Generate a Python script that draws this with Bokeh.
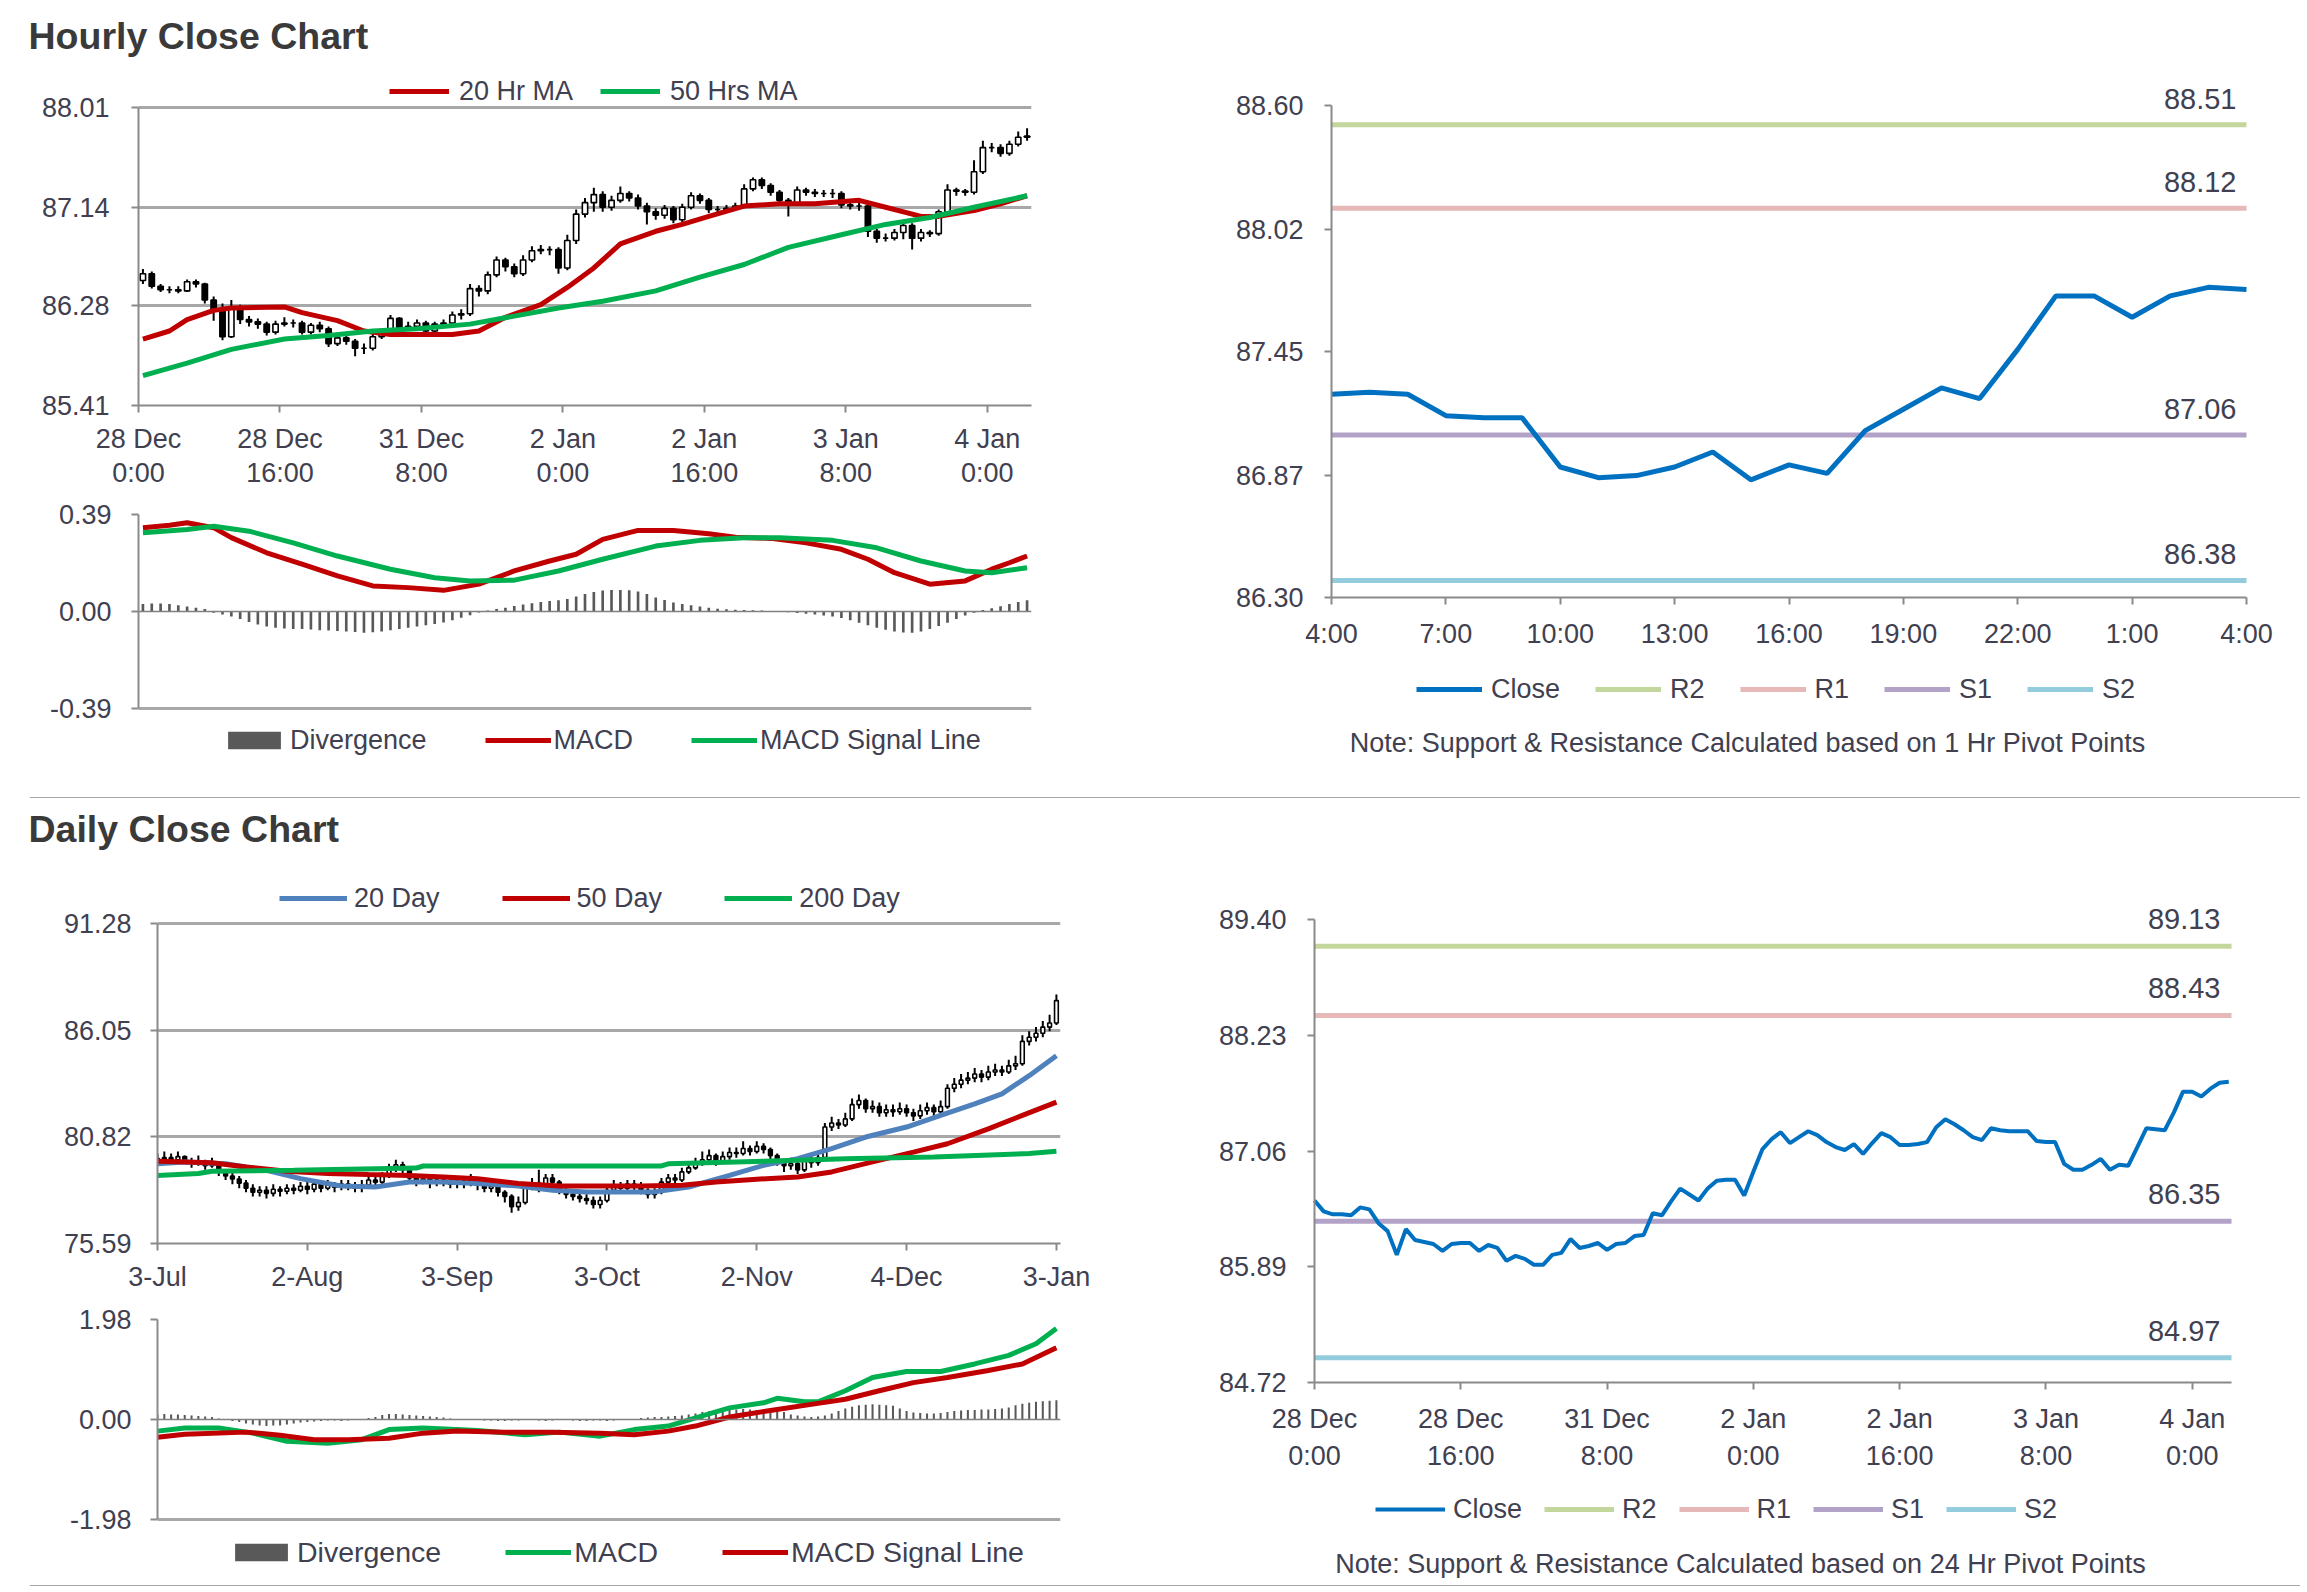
from bokeh.plotting import figure
from bokeh.models import (ColumnDataSource, FixedTicker, NumeralTickFormatter, Legend,
                          LegendItem, Label, Span, Range1d)
from bokeh.layouts import column, row
from bokeh.embed import file_html
from bokeh.resources import INLINE

# ----------------------------------------------------------------- data
hourly_tick_labels = ["28 Dec\n0:00", "28 Dec\n16:00", "31 Dec\n8:00", "2 Jan\n0:00",
                      "2 Jan\n16:00", "3 Jan\n8:00", "4 Jan\n0:00"]
hourly_tick_step = 16
hourly_price_ticks = [85.41, 86.28, 87.14, 88.01]

hourly_open = [86.50, 86.56, 86.45, 86.42, 86.42, 86.41, 86.49, 86.47, 86.33, 86.25,
               86.01, 86.27, 86.16, 86.14, 86.12, 86.05, 86.12, 86.13, 86.13, 86.05,
               86.11, 86.08, 85.95, 86.00, 85.97, 85.91, 85.91, 86.01, 86.03, 86.17,
               86.08, 86.10, 86.13, 86.06, 86.12, 86.13, 86.20, 86.21, 86.43, 86.41,
               86.55, 86.68, 86.62, 86.56, 86.68, 86.76, 86.77, 86.77, 86.61, 86.85,
               87.08, 87.18, 87.25, 87.14, 87.20, 87.26, 87.22, 87.15, 87.10, 87.07,
               87.13, 87.03, 87.14, 87.24, 87.20, 87.12, 87.12, 87.13, 87.15, 87.30,
               87.38, 87.33, 87.27, 87.20, 87.17, 87.29, 87.27, 87.26, 87.26, 87.26,
               87.16, 87.15, 87.15, 86.93, 86.87, 86.87, 86.92, 86.98, 86.87, 86.92,
               86.91, 87.10, 87.29, 87.28, 87.27, 87.45, 87.66, 87.66, 87.61, 87.69,
               87.75]
hourly_high = [86.60, 86.58, 86.47, 86.45, 86.45, 86.51, 86.51, 86.48, 86.36, 86.30,
               86.33, 86.29, 86.19, 86.17, 86.14, 86.15, 86.18, 86.16, 86.15, 86.13,
               86.14, 86.10, 86.02, 86.03, 85.99, 85.95, 86.04, 86.07, 86.20, 86.18,
               86.14, 86.16, 86.15, 86.14, 86.16, 86.23, 86.25, 86.47, 86.46, 86.58,
               86.71, 86.70, 86.65, 86.72, 86.80, 86.81, 86.80, 86.79, 86.90, 87.12,
               87.22, 87.31, 87.28, 87.24, 87.32, 87.28, 87.25, 87.18, 87.13, 87.16,
               87.15, 87.17, 87.27, 87.26, 87.22, 87.15, 87.16, 87.18, 87.34, 87.40,
               87.40, 87.35, 87.29, 87.22, 87.32, 87.31, 87.30, 87.29, 87.30, 87.28,
               87.19, 87.18, 87.17, 86.95, 86.91, 86.95, 87.02, 87.00, 86.95, 86.94,
               87.12, 87.34, 87.31, 87.30, 87.55, 87.72, 87.70, 87.69, 87.72, 87.80,
               87.83]
hourly_low = [86.47, 86.43, 86.40, 86.39, 86.39, 86.40, 86.44, 86.30, 86.15, 85.98,
              86.00, 86.12, 86.10, 86.08, 86.02, 86.03, 86.10, 86.09, 86.03, 86.03,
              86.05, 85.92, 85.93, 85.94, 85.84, 85.86, 85.89, 85.99, 86.02, 86.05,
              86.06, 86.08, 86.03, 86.03, 86.09, 86.11, 86.16, 86.19, 86.36, 86.38,
              86.53, 86.58, 86.53, 86.54, 86.66, 86.73, 86.72, 86.56, 86.59, 86.82,
              87.05, 87.10, 87.10, 87.11, 87.18, 87.19, 87.12, 86.99, 87.03, 87.04,
              87.00, 87.01, 87.12, 87.17, 87.09, 87.09, 87.10, 87.11, 87.13, 87.28,
              87.30, 87.24, 87.17, 87.06, 87.15, 87.24, 87.23, 87.23, 87.22, 87.13,
              87.12, 87.11, 86.88, 86.83, 86.84, 86.85, 86.86, 86.77, 86.84, 86.88,
              86.89, 87.08, 87.24, 87.24, 87.25, 87.43, 87.62, 87.58, 87.59, 87.67,
              87.72]
hourly_close = [86.56, 86.45, 86.42, 86.42, 86.41, 86.49, 86.47, 86.33, 86.25, 86.01,
                86.27, 86.16, 86.14, 86.12, 86.05, 86.12, 86.13, 86.13, 86.05, 86.11,
                86.08, 85.95, 86.00, 85.97, 85.91, 85.91, 86.01, 86.03, 86.17, 86.08,
                86.10, 86.13, 86.06, 86.12, 86.13, 86.20, 86.21, 86.43, 86.41, 86.55,
                86.68, 86.62, 86.56, 86.68, 86.76, 86.77, 86.77, 86.61, 86.85, 87.08,
                87.18, 87.25, 87.14, 87.20, 87.26, 87.22, 87.15, 87.10, 87.07, 87.13,
                87.03, 87.14, 87.24, 87.20, 87.12, 87.12, 87.13, 87.15, 87.30, 87.38,
                87.33, 87.27, 87.20, 87.17, 87.29, 87.27, 87.26, 87.26, 87.26, 87.16,
                87.15, 87.15, 86.93, 86.87, 86.87, 86.92, 86.98, 86.87, 86.92, 86.91,
                87.10, 87.29, 87.28, 87.27, 87.45, 87.66, 87.66, 87.61, 87.69, 87.75,
                87.76]

ma20h_idx = [0, 3, 5, 8, 10, 16, 18, 22, 25, 28, 31, 35, 38, 41, 45, 48, 51, 54, 58, 61,
             64, 68, 72, 76, 81, 84, 88, 90, 94, 97, 100]
ma20h_val = [85.99, 86.06, 86.16, 86.24, 86.26, 86.27, 86.22, 86.15, 86.06, 86.03,
             86.03, 86.03, 86.06, 86.18, 86.29, 86.44, 86.61, 86.82, 86.93, 86.99,
             87.06, 87.15, 87.17, 87.17, 87.20, 87.14, 87.06, 87.06, 87.11, 87.17, 87.24]
ma50h_idx = [0, 5, 10, 16, 21, 26, 31, 37, 42, 47, 52, 58, 63, 68, 73, 79, 84, 89, 94, 100]
ma50h_val = [85.67, 85.78, 85.90, 85.99, 86.02, 86.06, 86.08, 86.12, 86.19, 86.26,
             86.32, 86.41, 86.53, 86.64, 86.79, 86.90, 86.99, 87.05, 87.14, 87.24]

macd_h_ticks = [-0.39, 0.00, 0.39]
macd_h_idx = [0, 3, 5, 8, 10, 14, 18, 22, 26, 30, 34, 38, 42, 46, 49, 52, 56, 60, 64, 67,
              71, 75, 79, 82, 85, 89, 93, 96, 98, 100]
macd_h_val = [0.337, 0.347, 0.357, 0.337, 0.297, 0.236, 0.190, 0.143, 0.103, 0.096,
              0.085, 0.110, 0.163, 0.203, 0.230, 0.290, 0.326, 0.326, 0.313, 0.299,
              0.294, 0.276, 0.250, 0.210, 0.156, 0.110, 0.123, 0.170, 0.196, 0.223]
sig_h_idx = [0, 5, 8, 12, 17, 22, 28, 33, 37, 42, 47, 52, 58, 63, 68, 72, 78, 83, 88, 93, 96, 100]
sig_h_val = [0.317, 0.330, 0.343, 0.323, 0.276, 0.223, 0.170, 0.136, 0.123, 0.126, 0.163,
             0.210, 0.263, 0.286, 0.297, 0.297, 0.286, 0.256, 0.203, 0.163, 0.156, 0.176]
div_h = [0.030, 0.032, 0.032, 0.030, 0.025, 0.020, 0.015, 0.010,
         -0.005, -0.012, -0.020, -0.030, -0.042, -0.052, -0.060,
         -0.065, -0.068, -0.070, -0.070, -0.072, -0.075, -0.076, -0.078, -0.080, -0.082, -0.085,
         -0.083, -0.080, -0.075, -0.070, -0.065, -0.060, -0.055, -0.050, -0.044, -0.035, -0.025, -0.015,
         -0.004, 0.004, 0.010,
         0.015, 0.022, 0.028, 0.033, 0.038, 0.042, 0.045, 0.050,
         0.060, 0.070, 0.078, 0.084, 0.086, 0.086, 0.085, 0.080, 0.070,
         0.056, 0.046, 0.036, 0.030, 0.025, 0.020, 0.015,
         0.011, 0.009, 0.007, 0.006, 0.005, 0.004, 0.002, 0.000,
         -0.003, -0.006, -0.009, -0.012, -0.016, -0.020, -0.026,
         -0.035, -0.045, -0.055, -0.065, -0.073, -0.080, -0.084, -0.085, -0.080, -0.070, -0.058,
         -0.045, -0.030, -0.016, -0.005,
         0.006, 0.013, 0.021, 0.030, 0.038, 0.045]

pivot1_tick_labels = ["4:00", "7:00", "10:00", "13:00", "16:00", "19:00", "22:00", "1:00", "4:00"]
pivot1_tick_step = 3
pivot1_ticks = [86.30, 86.87, 87.45, 88.02, 88.60]
pivot1_close = [87.25, 87.26, 87.25, 87.15, 87.14, 87.14, 86.91, 86.86, 86.87, 86.91,
                86.98, 86.85, 86.92, 86.88, 87.08, 87.18, 87.28, 87.23, 87.46, 87.71,
                87.71, 87.61, 87.71, 87.75, 87.74]
pivot1_names = ["R2", "R1", "S1", "S2"]
pivot1_levels = [88.51, 88.12, 87.06, 86.38]
pivot1_note = "Note: Support & Resistance Calculated based on 1 Hr Pivot Points"

daily_tick_labels = ["3-Jul", "2-Aug", "3-Sep", "3-Oct", "2-Nov", "4-Dec", "3-Jan"]
daily_tick_step = 22
daily_price_ticks = [75.59, 80.82, 86.05, 91.28]
daily_open = [79.60, 79.75, 79.80, 79.70, 79.85, 79.65, 79.55, 79.60, 79.40, 79.50, 79.10, 78.90,
              78.75, 78.55, 78.30, 78.10, 78.20, 78.05, 78.25, 78.15, 78.30, 78.20, 78.40, 78.25,
              78.50, 78.30, 78.45, 78.35, 78.50, 78.40, 78.30, 78.45, 78.70, 78.60, 78.90, 79.30,
              79.45, 79.20, 78.80, 78.65, 78.75, 78.55, 78.70, 78.60, 78.50, 78.65, 78.55, 78.70,
              78.45, 78.30, 78.40, 78.10, 77.90, 77.40, 77.60, 78.40, 78.55, 78.30, 78.80, 78.60,
              78.20, 78.00, 77.90, 77.80, 77.70, 77.50, 77.70, 78.20, 78.45, 78.30, 78.50, 78.40,
              78.20, 78.00, 78.10, 78.60, 78.80, 78.70, 79.10, 79.30, 79.50, 79.70, 79.90, 79.60,
              79.85, 80.05, 80.00, 80.25, 80.10, 80.35, 80.20, 79.90, 79.60, 79.40, 79.50, 79.20,
              79.70, 79.55, 79.80, 81.30, 81.50, 81.40, 81.70, 82.40, 82.60, 82.20, 82.30, 82.00,
              82.15, 82.05, 82.20, 82.00, 81.85, 82.10, 82.25, 82.05, 82.30, 83.20, 83.40, 83.60,
              83.70, 83.90, 83.75, 84.00, 84.10, 84.00, 84.30, 84.40, 85.50, 85.70, 85.90, 86.20,
              86.40]
daily_high = [80.0, 80.1, 80.0, 80.1, 79.9, 79.8, 79.9, 79.7, 79.8, 79.6,
              79.2, 79.1, 78.9, 78.7, 78.5, 78.4, 78.4, 78.5, 78.4, 78.5,
              78.5, 78.6, 78.6, 78.7, 78.7, 78.7, 78.6, 78.7, 78.7, 78.6,
              78.7, 78.9, 78.9, 79.1, 79.5, 79.7, 79.6, 79.3, 79.0, 79.0,
              78.9, 78.9, 78.9, 78.8, 78.9, 78.8, 79.0, 78.8, 78.6, 78.6,
              78.5, 78.2, 78.0, 77.9, 78.6, 78.8, 79.2, 79.0, 79.0, 78.7,
              78.3, 78.2, 78.1, 78.0, 77.9, 77.9, 78.4, 78.7, 78.6, 78.7,
              78.7, 78.6, 78.3, 78.3, 78.8, 79.0, 79.0, 79.3, 79.5, 79.8,
              80.1, 80.2, 80.0, 80.1, 80.3, 80.3, 80.6, 80.4, 80.6, 80.5,
              80.3, 80.0, 79.7, 79.8, 79.6, 79.9, 79.9, 80.1, 81.5, 81.8,
              81.7, 82.0, 82.7, 82.9, 82.7, 82.6, 82.5, 82.4, 82.4, 82.5,
              82.4, 82.2, 82.4, 82.5, 82.4, 82.6, 83.4, 83.7, 83.9, 84.0,
              84.2, 84.1, 84.3, 84.4, 84.3, 84.6, 84.8, 85.8, 86.0, 86.2,
              86.5, 86.8, 87.8]
daily_low = [79.5, 79.6, 79.5, 79.6, 79.5, 79.3, 79.4, 79.2, 79.3, 78.9,
             78.7, 78.5, 78.3, 78.1, 77.9, 77.9, 77.8, 77.9, 77.9, 78.0,
             78.0, 78.1, 78.0, 78.1, 78.1, 78.2, 78.1, 78.2, 78.2, 78.1,
             78.1, 78.3, 78.4, 78.5, 78.8, 79.1, 79.0, 78.6, 78.4, 78.5,
             78.3, 78.4, 78.4, 78.3, 78.3, 78.3, 78.4, 78.2, 78.1, 78.1,
             77.9, 77.6, 77.1, 77.2, 77.5, 78.2, 78.1, 78.2, 78.4, 78.0,
             77.8, 77.7, 77.6, 77.5, 77.3, 77.3, 77.6, 78.1, 78.1, 78.2,
             78.2, 78.0, 77.8, 77.8, 78.0, 78.4, 78.5, 78.6, 79.0, 79.2,
             79.4, 79.6, 79.4, 79.5, 79.7, 79.8, 79.9, 79.9, 80.0, 80.0,
             79.7, 79.4, 79.1, 79.2, 79.0, 79.1, 79.3, 79.4, 79.7, 81.1,
             81.2, 81.3, 81.6, 82.2, 82.0, 82.0, 81.8, 81.8, 81.8, 81.9,
             81.8, 81.6, 81.7, 81.9, 81.8, 81.9, 82.2, 83.0, 83.2, 83.4,
             83.5, 83.5, 83.6, 83.8, 83.8, 83.9, 84.1, 84.3, 85.3, 85.5,
             85.7, 86.0, 86.3]
daily_close = [79.75, 79.80, 79.70, 79.85, 79.65, 79.55, 79.60, 79.40, 79.50, 79.10, 78.90, 78.75,
               78.55, 78.30, 78.10, 78.20, 78.05, 78.25, 78.15, 78.30, 78.20, 78.40, 78.25, 78.50,
               78.30, 78.45, 78.35, 78.50, 78.40, 78.30, 78.45, 78.70, 78.60, 78.90, 79.30, 79.45,
               79.20, 78.80, 78.65, 78.75, 78.55, 78.70, 78.60, 78.50, 78.65, 78.55, 78.70, 78.45,
               78.30, 78.40, 78.10, 77.90, 77.40, 77.60, 78.40, 78.55, 78.30, 78.80, 78.60, 78.20,
               78.00, 77.90, 77.80, 77.70, 77.50, 77.70, 78.20, 78.45, 78.30, 78.50, 78.40, 78.20,
               78.00, 78.10, 78.60, 78.80, 78.70, 79.10, 79.30, 79.50, 79.70, 79.90, 79.60, 79.85,
               80.05, 80.00, 80.25, 80.10, 80.35, 80.20, 79.90, 79.60, 79.40, 79.50, 79.20, 79.70,
               79.55, 79.80, 81.30, 81.50, 81.40, 81.70, 82.40, 82.60, 82.20, 82.30, 82.00, 82.15,
               82.05, 82.20, 82.00, 81.85, 82.10, 82.25, 82.05, 82.30, 83.20, 83.40, 83.60, 83.70,
               83.90, 83.75, 84.00, 84.10, 84.00, 84.30, 84.40, 85.50, 85.70, 85.90, 86.20, 86.40,
               87.50]

ma20d_idx = [0, 4, 10, 16, 21, 27, 32, 37, 42, 47, 53, 58, 63, 68, 73, 78, 84, 89, 94, 99,
             104, 110, 115, 120, 124, 128, 132]
ma20d_val = [79.50, 79.59, 79.50, 79.18, 78.77, 78.41, 78.36, 78.61, 78.61, 78.53, 78.41,
             78.20, 78.12, 78.12, 78.12, 78.36, 78.93, 79.42, 79.75, 80.24, 80.81, 81.30,
             81.87, 82.44, 82.93, 83.82, 84.80]
ma50d_idx = [0, 8, 13, 19, 25, 31, 37, 42, 47, 53, 59, 65, 71, 77, 82, 88, 94, 99, 105,
             111, 116, 122, 127, 132]
ma50d_val = [79.62, 79.55, 79.34, 79.13, 79.02, 78.97, 78.93, 78.85, 78.77, 78.53, 78.41,
             78.41, 78.41, 78.45, 78.61, 78.74, 78.85, 79.10, 79.59, 80.07, 80.48, 81.21,
             81.87, 82.52]
ma200d_idx = [0, 6, 8, 20, 38, 39, 74, 75, 85, 94, 101, 114, 128, 132]
ma200d_val = [78.93, 79.02, 79.13, 79.18, 79.29, 79.39, 79.39, 79.50, 79.59, 79.67, 79.75,
              79.83, 80.00, 80.11]

macd_d_ticks = [-1.98, 0.00, 1.98]
macd_d_idx = [0, 4, 9, 14, 19, 25, 30, 34, 39, 47, 54, 59, 65, 70, 75, 80, 84, 89, 91, 95,
              97, 101, 105, 110, 115, 120, 125, 129, 132]
macd_d_val = [-0.23, -0.17, -0.17, -0.27, -0.43, -0.47, -0.40, -0.20, -0.17, -0.22, -0.30,
              -0.25, -0.33, -0.20, -0.13, 0.07, 0.23, 0.33, 0.42, 0.35, 0.35, 0.57, 0.83,
              0.95, 0.95, 1.10, 1.27, 1.50, 1.80]
sig_d_idx = [0, 4, 13, 18, 23, 28, 34, 39, 44, 51, 58, 65, 70, 75, 79, 84, 90, 96, 101,
             106, 111, 116, 122, 127, 132]
sig_d_val = [-0.35, -0.29, -0.25, -0.31, -0.40, -0.40, -0.37, -0.27, -0.23, -0.25, -0.25,
             -0.27, -0.30, -0.23, -0.13, 0.05, 0.18, 0.30, 0.40, 0.57, 0.73, 0.83, 0.97,
             1.10, 1.42]
div_d = [0.10, 0.11, 0.10, 0.10, 0.09, 0.08, 0.07, 0.06, 0.05,
         0.02, 0.00, -0.03, -0.05,
         -0.08, -0.10, -0.12, -0.13, -0.12, -0.12, -0.10, -0.08, -0.06, -0.05,
         -0.04, -0.03, -0.02, -0.02, -0.03, -0.02, -0.01, 0.01, 0.03, 0.05,
         0.09, 0.11, 0.11, 0.10, 0.09, 0.08, 0.07, 0.06, 0.05, 0.04,
         0.02, 0.01, 0.00, -0.01, -0.01, -0.02, -0.02, -0.03, -0.03, -0.02, -0.02, -0.01, -0.01,
         -0.02, -0.03, -0.02, -0.01, -0.01, -0.02, -0.03, -0.03, -0.02, -0.02, -0.03, -0.02,
         -0.01, 0.00, 0.01,
         0.03, 0.04, 0.05, 0.05, 0.06, 0.07, 0.08, 0.10,
         0.12, 0.15, 0.17, 0.18, 0.19, 0.20, 0.20, 0.21, 0.20, 0.19, 0.20, 0.20, 0.18, 0.15,
         0.10, 0.08, 0.06, 0.05, 0.06, 0.08, 0.12,
         0.17, 0.22, 0.25, 0.28, 0.29, 0.30, 0.29, 0.28, 0.27,
         0.22, 0.17, 0.14, 0.13, 0.12, 0.12, 0.13, 0.15,
         0.17, 0.18, 0.19, 0.19, 0.20, 0.20, 0.21, 0.22, 0.24,
         0.28, 0.31, 0.33, 0.35, 0.36, 0.37, 0.38]

pivot2_ticks = [84.72, 85.89, 87.06, 88.23, 89.40]
pivot2_names = ["R2", "R1", "S1", "S2"]
pivot2_levels = [89.13, 88.43, 86.35, 84.97]
pivot2_note = "Note: Support & Resistance Calculated based on 24 Hr Pivot Points"

# ----------------------------------------------------------------- style
FONT = "Liberation Sans"
TXT = "#404050"
GRID = "#a8a8a8"
AXIS = "#8a8a8a"
SEP = "#a8a8a8"
RED = "#c00000"
GREEN = "#00b050"
BLUE20 = "#4f81bd"
CLOSE_BLUE = "#0070c0"
DIVC = "#595959"
LEVEL_COLORS = {"R2": "#c3d69b", "R1": "#e6b9b8", "S1": "#b3a2c7", "S2": "#93cddd"}
TICK_FS = "27px"
LEG_FS = "27px"


def span_range(v0, v1, p0, p1, f_top, f_bot):
    """Vertical: v0 drawn at page row p0, v1 at row p1, frame spanning rows f_top..f_bot."""
    k = (v1 - v0) / (p0 - p1)
    return (v0 - (f_bot - p0) * k, v1 + (p1 - f_top) * k)


def lin_range(v0, v1, p0, p1, f_left, f_right):
    """Horizontal: v0 drawn at page column p0, v1 at p1, frame spanning f_left..f_right."""
    k = (v1 - v0) / (p1 - p0)
    return (v0 - (p0 - f_left) * k, v1 + (f_right - p1) * k)


def base_fig(w, h, left, right, top, bottom, xr, yr, xaxis=True, yaxis=True):
    p = figure(width=w, height=h, x_range=Range1d(*xr), y_range=Range1d(*yr),
               output_backend="svg", toolbar_location=None, tools="",
               x_axis_location="below" if xaxis else None,
               y_axis_location="left" if yaxis else None,
               min_border_left=left, min_border_right=right,
               min_border_top=top, min_border_bottom=bottom)
    p.outline_line_color = None
    p.background_fill_color = "white"
    p.border_fill_color = "white"
    for g in p.grid:
        g.visible = False
    return p


def set_title(p, text, offset, standoff):
    p.title.text = text
    p.title.align = "left"
    p.title.offset = offset
    p.title.standoff = standoff
    p.title.text_font = FONT
    p.title.text_font_size = "37.5px"
    p.title.text_font_style = "bold"
    p.title.text_color = "#3a3a3a"


def style_axis(ax, standoff, line_height=1.2):
    ax.axis_line_color = AXIS
    ax.axis_line_width = 2
    ax.major_tick_line_color = AXIS
    ax.major_tick_line_width = 2
    ax.major_tick_in = 0
    ax.major_tick_out = 7
    ax.minor_tick_line_color = None
    ax.major_label_text_font = FONT
    ax.major_label_text_font_size = TICK_FS
    ax.major_label_text_color = TXT
    ax.major_label_standoff = standoff
    ax.major_label_text_line_height = line_height


def set_ygrid(p, ticks):
    p.ygrid.visible = True
    p.ygrid.ticker = FixedTicker(ticks=ticks)
    p.ygrid.grid_line_color = GRID
    p.ygrid.grid_line_width = 3


def set_xticks(p, labels, step, standoff, line_height=1.2):
    pos = [k * step for k in range(len(labels))]
    p.xaxis.ticker = FixedTicker(ticks=pos)
    p.xaxis.major_label_overrides = {t: lab for t, lab in zip(pos, labels)}
    style_axis(p.xaxis[0], standoff, line_height)


def set_yticks(p, ticks, standoff):
    p.yaxis.ticker = FixedTicker(ticks=ticks)
    p.yaxis.formatter = NumeralTickFormatter(format="0.00")
    p.yaxis.bounds = (ticks[0], ticks[-1])
    style_axis(p.yaxis[0], standoff)


def add_legend(p, items, x, y, glyph_w, standoff, spacing, size=LEG_FS):
    lg = Legend(items=[LegendItem(label=l, renderers=[r]) for l, r in items],
                location=(x, y), orientation="horizontal",
                label_text_font=FONT, label_text_font_size=size, label_text_color=TXT,
                glyph_width=glyph_w, glyph_height=22, label_standoff=standoff,
                spacing=spacing, padding=0, margin=0, border_line_color=None,
                background_fill_alpha=0)
    p.add_layout(lg)


def add_note(p, text, x, y):
    p.add_layout(Label(x=x, y=y, x_units="screen", y_units="screen", text=text,
                       text_font=FONT, text_font_size="27px", text_color=TXT,
                       text_align="center", text_baseline="middle"))


def candles(p, xs, o, h, l, c, width):
    n = min(len(xs), len(o), len(h), len(l), len(c))
    src = ColumnDataSource(dict(
        x=xs[:n], h=h[:n], l=l[:n],
        top=[max(a, b) for a, b in zip(o[:n], c[:n])],
        bottom=[min(a, b) for a, b in zip(o[:n], c[:n])],
        fill=["white" if b >= a else "black" for a, b in zip(o[:n], c[:n])]))
    p.segment(x0="x", y0="l", x1="x", y1="h", source=src, line_color="black", line_width=2)
    p.vbar(x="x", width=width, top="top", bottom="bottom", source=src,
           fill_color="fill", line_color="black", line_width=1.6)


def level_labels(p, names, levels, x, dy):
    for name, lvl in zip(names, levels):
        p.add_layout(Label(x=x, y=lvl, x_units="screen", y_units="data", y_offset=dy,
                           text=f"{lvl:.2f}", text_font=FONT, text_font_size="29px",
                           text_color=TXT, text_align="right", text_baseline="middle"))


def pivot_fig(height, page_top, close, tick_labels, tick_step, ticks, names, levels,
              x_end, px0, px1, py0, py1, close_w, legend_xy, legend_glyph, legend_spacing,
              legend_standoff, note, note_xy, label_x, label_dy, x_line_height):
    p = base_fig(1150, height, 0, 0, 0, 0,
                 lin_range(0, x_end, px0, px1, 1150, 2300),
                 span_range(ticks[0], ticks[-1], py0, py1, page_top, page_top + height))
    p.title_location = None
    set_yticks(p, ticks, 21)
    p.yaxis.fixed_location = 0
    set_xticks(p, tick_labels, tick_step, 14, x_line_height)
    p.xaxis.fixed_location = ticks[0]
    p.xaxis.bounds = (0, x_end)
    lv = []
    for name, lvl in zip(names, levels):
        lv.append((name, p.line([0, x_end], [lvl, lvl], line_color=LEVEL_COLORS[name],
                                line_width=5)))
    rc = p.line(list(range(len(close))), close, line_color=CLOSE_BLUE, line_width=close_w)
    level_labels(p, names, levels, label_x, label_dy)
    add_legend(p, [("Close", rc)] + lv, legend_xy[0], legend_xy[1], legend_glyph,
               legend_standoff, legend_spacing)
    add_note(p, note, note_xy[0], note_xy[1])
    return p


# ================================================================ hourly candles
n_h = len(hourly_close)
hx = [i + 0.5 for i in range(n_h)]

A = base_fig(1150, 495, 138, 119, 60, 90, (0, n_h),
             span_range(hourly_price_ticks[0], hourly_price_ticks[-1], 405, 107, 60, 405))
set_title(A, "Hourly Close Chart", -110, 7)
set_ygrid(A, hourly_price_ticks)
set_yticks(A, hourly_price_ticks, 22)
set_xticks(A, hourly_tick_labels, hourly_tick_step, 11, 1.15)
candles(A, hx, hourly_open, hourly_high, hourly_low, hourly_close, 0.6)
r_ma20 = A.line([i + 0.5 for i in ma20h_idx], ma20h_val, line_color=RED, line_width=5)
r_ma50 = A.line([i + 0.5 for i in ma50h_idx], ma50h_val, line_color=GREEN, line_width=5)
add_legend(A, [("20 Hr MA", r_ma20), ("50 Hrs MA", r_ma50)], 251, 298.5, 60, 10, 27)

# ================================================================ hourly MACD
B = base_fig(1150, 295, 138, 119, 19, 0, (0, n_h),
             span_range(macd_h_ticks[0], macd_h_ticks[-1], 708, 514, 514, 790), xaxis=False)
B.title_location = None
set_ygrid(B, [macd_h_ticks[0], macd_h_ticks[-1]])
set_yticks(B, macd_h_ticks, 20)
B.add_layout(Span(location=0, dimension="width", line_color="#808080", line_width=1.5))
r_divh = B.vbar(x=hx[:len(div_h)], top=div_h, bottom=0, width=0.3, fill_color=DIVC, line_color=None)
r_macdh = B.line([i + 0.5 for i in macd_h_idx], macd_h_val, line_color=RED, line_width=5)
r_sigh = B.line([i + 0.5 for i in sig_h_idx], sig_h_val, line_color=GREEN, line_width=5)
add_legend(B, [("Divergence", r_divh), ("MACD", r_macdh), ("MACD Signal Line", r_sigh)],
           83, 34.5, 66, 3, 58)

# ================================================================ hourly pivot
C = pivot_fig(790, 0, pivot1_close, pivot1_tick_labels, pivot1_tick_step, pivot1_ticks,
              pivot1_names, pivot1_levels, len(pivot1_close) - 1, 1331, 2246, 597, 105, 5,
              (266, 85.5), 66, 35, 9, pivot1_note, (597, 48), 1086, 26, 1.2)


# ================================================================ separators
def separator(h, y):
    s = base_fig(2300, h, 29, 0, 0, 0, (0, 1), (0, h), xaxis=False, yaxis=False)
    s.title_location = None
    s.add_layout(Span(location=y, dimension="width", line_color=SEP, line_width=3))
    return s


# ================================================================ daily candles
n_d = len(daily_close)
dx = list(range(n_d))

D = base_fig(1150, 502, 157, 90, 52, 57, (0, n_d - 1 + 0.6),
             span_range(daily_price_ticks[0], daily_price_ticks[-1], 1243, 923, 850, 1243))
set_title(D, "Daily Close Chart", -129, 1)
set_ygrid(D, daily_price_ticks)
set_yticks(D, daily_price_ticks, 19)
set_xticks(D, daily_tick_labels, daily_tick_step, 11)
candles(D, dx, daily_open, daily_high, daily_low, daily_close, 0.55)
r_d20 = D.line(ma20d_idx, ma20d_val, line_color=BLUE20, line_width=5)
r_d50 = D.line(ma50d_idx, ma50d_val, line_color=RED, line_width=5)
r_d200 = D.line(ma200d_idx, ma200d_val, line_color=GREEN, line_width=5)
add_legend(D, [("20 Day", r_d20), ("50 Day", r_d50), ("200 Day", r_d200)], 122, 329.5, 68, 7, 62)

# ================================================================ daily MACD
E = base_fig(1150, 278, 157, 90, 19, 0, (0, n_d - 1 + 0.6),
             span_range(macd_d_ticks[0], macd_d_ticks[-1], 1519, 1319, 1319, 1578), xaxis=False)
E.title_location = None
set_ygrid(E, [macd_d_ticks[0], macd_d_ticks[-1]])
set_yticks(E, macd_d_ticks, 19)
E.add_layout(Span(location=0, dimension="width", line_color="#808080", line_width=1.5))
r_divd = E.vbar(x=dx[:len(div_d)], top=div_d, bottom=0, width=0.3, fill_color=DIVC, line_color=None)
r_macdd = E.line(macd_d_idx, macd_d_val, line_color=GREEN, line_width=5)
r_sigd = E.line(sig_d_idx, sig_d_val, line_color=RED, line_width=5)
add_legend(E, [("Divergence", r_divd), ("MACD", r_macdd), ("MACD Signal Line", r_sigd)],
           71, 9.5, 66, 3, 64, size="28.5px")

# ================================================================ daily pivot
F = pivot_fig(780, 798, hourly_close, hourly_tick_labels, hourly_tick_step, pivot2_ticks,
              pivot2_names, pivot2_levels, n_h - 1 + 0.3, 1314, 2231, 1382, 919, 4,
              (225, 53.5), 70, 22, 8, pivot2_note, (590, 15), 1070, 27, 1.25)

layout = column(
    row(column(A, B), C),
    separator(8, 4),
    row(column(D, E), F),
    separator(8, 4),
)

open("out.html", "w").write(file_html(layout, INLINE))
